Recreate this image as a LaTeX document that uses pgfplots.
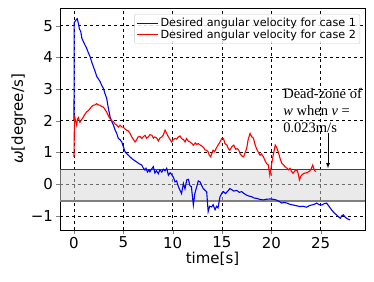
\documentclass[border=0pt]{standalone}
\usepackage{pgfplots}
\pgfplotsset{compat=1.18}
\usepackage{fontspec}
\setmainfont{DejaVu Sans}
\newfontfamily\timesfont{Liberation Serif}
\begin{document}
\begin{tikzpicture}
\begin{axis}[
  scale only axis, width=305pt, height=222pt,
  xmin=-1.42, xmax=29.5, ymin=-1.45, ymax=5.56,
  xtick={0,5,...,25}, ytick={-1,0,...,5},
  yticklabels={−1,0,1,2,3,4,5},
  tick align=outside, xtick pos=bottom, ytick pos=left,
  major tick length=3.5pt,
  /pgf/number format/assume math mode=true,
  ticklabel style={font=\fontsize{15}{17}\selectfont},
  grid=major, grid style={black, dashed, line width=0.5pt},
  axis line style={black, line width=0.8pt},
  xlabel={time[s]}, ylabel={{\itshape ω}[degree/s]},
  label style={font=\fontsize{15}{17}\selectfont},
  xlabel style={yshift=3pt}, ylabel style={yshift=-2pt},
  legend style={at={(rel axis cs:0.984,0.973)}, anchor=north east,
    font=\fontsize{11.2}{13}\selectfont, draw=black!20, rounded corners=2pt,
    fill=white, fill opacity=0.85, text opacity=1, row sep=-2.5pt, inner sep=2pt},
  legend image code/.code={\draw[#1] (0pt,0pt) -- (21pt,0pt);},
  legend cell align=left,
]
% dead-zone band
\fill[black!16, fill opacity=0.5] (axis cs:-1.42,-0.53) rectangle (axis cs:29.5,0.47);
\draw[black!75, line width=0.9pt] (axis cs:-1.42,0.47) -- (axis cs:29.5,0.47);
\draw[black!50, line width=1.4pt] (axis cs:-1.42,-0.53) -- (axis cs:29.5,-0.53);
\addplot[blue, line width=1.1pt] coordinates {
(0,2.0)(0.02,5.1)(0.2,5.18)(0.33,5.22)(0.44,5.08)(0.55,4.9)(0.68,4.82)(0.8,4.6)(0.95,4.5)
(1.1,4.4)(1.28,4.29)(1.45,4.15)(1.62,4.03)(1.8,3.85)(1.96,3.71)(2.15,3.55)(2.3,3.4)(2.45,3.33)
(2.64,3.24)(2.8,3.12)(2.97,3.03)(3.15,2.85)(3.31,2.71)(3.48,2.4)(3.65,2.13)(3.82,1.98)(3.99,1.87)
(4.15,1.72)(4.33,1.6)(4.5,1.44)(4.67,1.4)(4.84,1.33)(5.0,1.18)(5.17,1.02)(5.33,0.97)(5.5,0.91)
(5.68,0.86)(5.85,0.81)(6.1,0.75)(6.36,0.7)(6.6,0.64)(6.87,0.6)(7.0,0.52)(7.2,0.44)(7.3,0.5)
(7.45,0.38)(7.6,0.45)(7.7,0.39)(7.85,0.47)(8.04,0.55)(8.2,0.35)(8.35,0.42)(8.55,0.33)(8.7,0.45)
(8.9,0.38)(9.05,0.47)(9.23,0.42)(9.4,0.5)(9.57,0.28)(9.75,0.36)(9.9,0.3)(10.1,0.2)(10.24,0.07)
(10.4,0.1)(10.58,-0.08)(10.75,-0.2)(10.9,-0.3)(11.09,0.02)(11.25,-0.15)(11.43,0.13)(11.6,0.15)
(11.75,-0.05)(11.9,-0.08)(12.1,-0.66)(12.25,-0.3)(12.44,-0.08)(12.6,0.1)(12.78,0.07)(12.95,-0.05)
(13.1,-0.14)(13.3,-0.2)(13.45,-0.24)(13.6,-0.87)(13.75,-0.7)(13.96,-0.72)(14.1,-0.65)(14.3,-0.81)
(14.45,-0.7)(14.6,-0.75)(14.8,-0.4)(15.0,-0.28)(15.15,-0.24)(15.35,-0.3)(15.6,-0.22)(15.8,-0.14)
(16.0,-0.18)(16.2,-0.22)(16.5,-0.2)(16.75,-0.26)(17.0,-0.24)(17.25,-0.3)(17.5,-0.35)(17.75,-0.38)
(18.0,-0.4)(18.25,-0.44)(18.5,-0.45)(18.8,-0.48)(19.2,-0.5)(19.5,-0.48)(19.9,-0.47)(20.2,-0.48)
(20.5,-0.5)(20.8,-0.55)(21.06,-0.6)(21.3,-0.58)(21.6,-0.6)(21.9,-0.64)(22.2,-0.66)(22.5,-0.68)
(22.9,-0.71)(23.2,-0.7)(23.6,-0.73)(23.85,-0.68)(24.1,-0.66)(24.35,-0.64)(24.6,-0.6)(24.85,-0.65)
(25.1,-0.66)(25.35,-0.62)(25.6,-0.6)(25.85,-0.7)(26.1,-0.81)(26.35,-0.9)(26.6,-0.97)(26.8,-1.03)
(27.0,-1.08)(27.15,-1.0)(27.3,-0.97)(27.5,-1.05)(27.65,-1.08)(27.85,-1.12)(28.0,-1.13)
};
\addlegendentry{Desired angular velocity for case 1}
\addplot[red, line width=1.1pt] coordinates {
(0,0.86)(0.05,2.18)(0.15,2.0)(0.27,1.86)(0.35,2.05)(0.44,2.1)(0.6,1.95)(0.8,2.05)(0.95,2.12)
(1.1,2.2)(1.28,2.28)(1.45,2.32)(1.62,2.38)(1.8,2.45)(1.96,2.49)(2.15,2.5)(2.3,2.54)(2.45,2.5)
(2.64,2.49)(2.8,2.45)(2.98,2.43)(3.15,2.35)(3.3,2.28)(3.5,2.15)(3.65,2.07)(3.8,2.0)(4.0,1.97)
(4.15,1.9)(4.33,1.86)(4.5,1.8)(4.67,1.86)(4.85,1.8)(5.0,1.8)(5.17,1.74)(5.34,1.7)(5.5,1.68)
(5.68,1.6)(5.85,1.49)(6.0,1.42)(6.19,1.33)(6.35,1.4)(6.5,1.49)(6.7,1.5)(6.87,1.44)(7.05,1.5)
(7.2,1.54)(7.35,1.45)(7.54,1.49)(7.7,1.56)(7.9,1.54)(8.05,1.45)(8.2,1.49)(8.4,1.45)(8.55,1.36)
(8.7,1.45)(8.9,1.49)(9.05,1.55)(9.23,1.7)(9.4,1.6)(9.57,1.49)(9.75,1.4)(9.9,1.33)(10.05,1.4)
(10.24,1.44)(10.4,1.42)(10.58,1.49)(10.75,1.52)(10.9,1.44)(11.1,1.4)(11.26,1.33)(11.4,1.44)
(11.6,1.35)(11.76,1.33)(11.95,1.28)(12.1,1.23)(12.3,1.3)(12.45,1.25)(12.6,1.28)(12.8,1.23)
(12.96,1.2)(13.15,1.15)(13.3,1.07)(13.45,1.07)(13.6,1.02)(13.7,0.92)(13.86,0.86)(14.0,1.0)
(14.1,1.07)(14.25,1.02)(14.4,1.12)(14.6,1.23)(14.8,1.33)(14.98,1.44)(15.15,1.44)(15.3,1.28)
(15.5,1.23)(15.65,1.12)(15.8,1.07)(16.0,1.18)(16.2,1.23)(16.4,1.1)(16.55,1.12)(16.7,1.07)
(16.85,0.95)(17.05,0.88)(17.2,0.86)(17.35,1.0)(17.5,1.12)(17.65,1.4)(17.85,1.6)(18.0,1.5)
(18.2,1.44)(18.35,1.25)(18.5,1.12)(18.7,1.0)(18.86,0.91)(19.0,0.95)(19.2,0.86)(19.35,0.75)
(19.5,0.66)(19.7,0.6)(19.85,0.28)(19.95,0.45)(20.1,0.76)(20.25,1.0)(20.4,1.23)(20.55,1.15)
(20.7,1.02)(20.9,0.8)(21.06,0.66)(21.25,0.6)(21.4,0.55)(21.6,0.5)(21.75,0.45)(21.9,0.5)
(22.05,0.4)(22.2,0.34)(22.4,0.42)(22.6,0.45)(22.75,0.3)(22.85,0.13)(23.0,0.25)(23.15,0.3)
(23.3,0.34)(23.5,0.35)(23.8,0.39)(24.0,0.45)(24.2,0.6)(24.35,0.45)(24.5,0.39)
};
\addlegendentry{Desired angular velocity for case 2}
\draw[-{latex}, line width=0.8pt] (axis cs:25.75,1.6) -- (axis cs:25.75,0.5);
\node[anchor=north west, align=left, font=\timesfont\fontsize{14.5}{17}\selectfont, inner sep=0pt]
  at (axis cs:21.2,3.02) {Dead-zone of\\\textit{w} when \textit{v} =\\0.023m/s};
\end{axis}
\path (0,0) ++(-60pt,-51pt) rectangle (314pt,230pt);
\end{tikzpicture}
\end{document}
